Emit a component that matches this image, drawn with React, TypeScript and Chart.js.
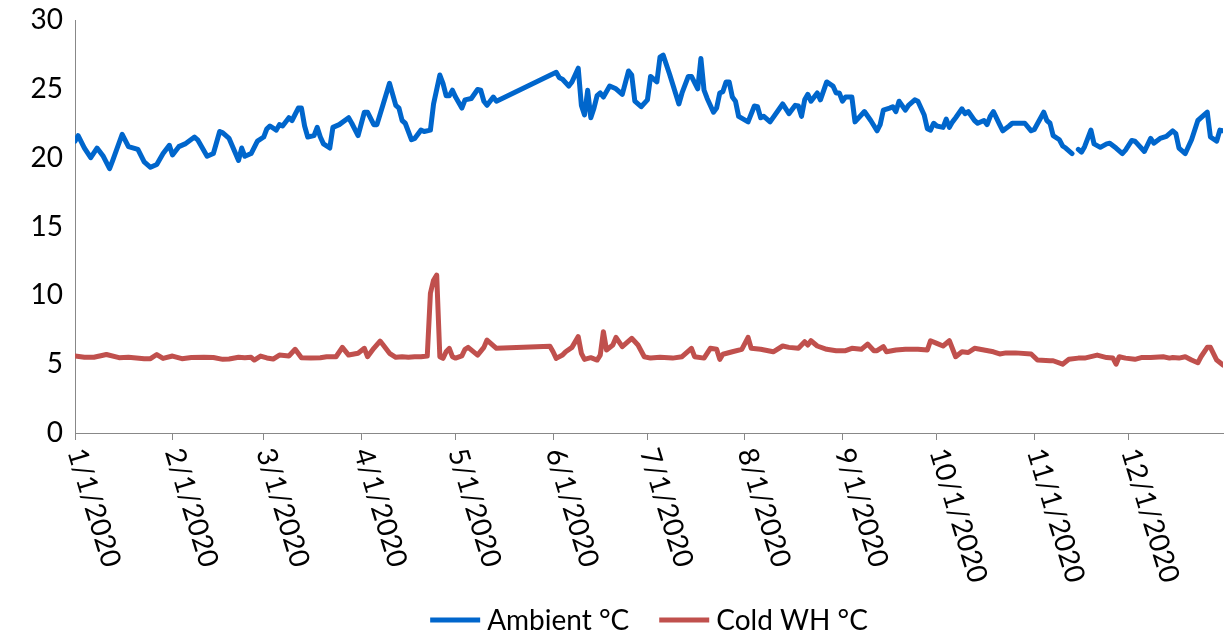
import React, { useEffect, useRef } from "react";
import { Chart, registerables } from "chart.js";

Chart.register(...registerables);

// Day-of-year index (0 = 1/1/2020) for each month start tick
const monthTickDays = [0, 31, 60, 91, 121, 152, 182, 213, 244, 274, 305, 335];
const monthTickLabels = [
  "1/1/2020", "2/1/2020", "3/1/2020", "4/1/2020", "5/1/2020", "6/1/2020",
  "7/1/2020", "8/1/2020", "9/1/2020", "10/1/2020", "11/1/2020", "12/1/2020",
];
const yTickValues = [0, 5, 10, 15, 20, 25, 30];

const seriesNames = ["Ambient °C", "Cold WH °C"];
const seriesColors = ["#0066CC", "#C0504D"];

// Ambient °C readings (day index, value); null marks the missing reading
const ambientDays = [
  0, 1, 3, 5, 7, 9, 11, 12, 15, 17, 20, 22, 24, 26, 28, 30, 31, 33, 35, 38, 39, 42, 44, 46, 47, 49,
  52, 53, 54, 56, 58, 60, 61, 62, 64, 65, 66, 68, 69, 71, 72, 73, 74, 76, 77, 78, 79, 81, 82, 84,
  87, 88, 90, 92, 93, 95, 96, 98, 100, 102, 103, 104, 105, 107, 108, 110, 111, 113, 114, 116, 117,
  118, 119, 120, 121, 123, 124, 126, 128, 129, 130, 131, 133, 134, 153, 154, 155, 157, 158, 160,
  161, 162, 163, 164, 165, 166, 167, 168, 170, 172, 174, 176, 177, 178, 180, 182, 183, 185, 186,
  187, 189, 192, 193, 195, 196, 198, 199, 200, 201, 203, 204, 205, 206, 207, 208, 209, 210, 211,
  214, 216, 217, 218, 219, 221, 225, 227, 229, 230, 231, 232, 233, 234, 236, 237, 239, 241, 242,
  243, 244, 245, 247, 248, 251, 253, 255, 256, 257, 259, 260, 261, 262, 264, 265, 267, 268, 270,
  271, 272, 273, 274, 276, 277, 278, 279, 280, 282, 283, 284, 286, 287, 289, 290, 291, 292, 294,
  295, 297, 298, 300, 302, 304, 305, 308, 309, 310, 311, 313, 314, 315, 317, 318, 319, 320, 321,
  323, 324, 326, 328, 329, 331, 333, 334, 336, 337, 340, 342, 343, 345, 347, 349, 350, 351, 353,
  355, 357, 360, 361, 363, 364, 365,
];
const ambientValues = [
  21.2, 21.6, 20.7, 20.0, 20.7, 20.1, 19.2, 19.8, 21.7, 20.8, 20.6, 19.7, 19.3, 19.5, 20.3, 20.9,
  20.2, 20.8, 21.0, 21.5, 21.3, 20.1, 20.3, 21.9, 21.8, 21.4,
  19.8, 20.7, 20.1, 20.3, 21.2, 21.5, 22.1, 22.3, 22.0, 22.4, 22.3, 22.9, 22.7, 23.6, 23.6, 22.3,
  21.5, 21.6, 22.2, 21.5, 21.0, 20.7, 22.2, 22.4,
  22.9, 22.5, 21.6, 23.3, 23.3, 22.4, 22.4, 23.9, 25.4, 23.8, 23.6, 22.7, 22.5, 21.3, 21.4, 22.0,
  21.9, 22.0, 23.9, 26.0, 25.4,
  24.5, 24.5, 24.9, 24.4, 23.6, 24.2, 24.3, 24.95, 24.9, 24.1, 23.8, 24.4, 24.1, 26.2, 25.8, 25.7,
  25.2, 25.5, 26.5,
  23.8, 23.1, 24.9, 22.9, 23.6, 24.5, 24.7, 24.4, 25.2, 25.0, 24.6, 26.3, 26.0, 24.1, 23.7, 24.2,
  25.9, 25.5, 27.3,
  27.45, 26.1, 23.9, 24.7, 25.9, 25.9, 25.0, 27.2, 24.9, 24.3, 23.3, 23.6, 24.7, 24.8, 25.5, 25.5,
  24.4, 24.1, 23.0,
  22.6, 23.75, 23.7, 22.9, 23.0, 22.6, 23.9, 23.2, 23.8, 23.75, 23.0, 24.2, 24.6, 24.1, 24.7, 24.2,
  25.5, 25.2, 24.7,
  24.7, 24.1, 24.4, 24.4, 22.6, 23.35, 22.7, 21.95, 22.4, 23.45, 23.6, 23.7, 23.35, 24.1, 23.45,
  23.8, 24.2, 24.1, 23.1,
  22.1, 22.0, 22.5, 22.3, 22.2, 22.8, 22.2, 22.6, 22.9, 23.55, 23.2, 23.35, 22.7, 22.5, 22.7, 22.4,
  23.0, 23.35, 22.4,
  21.95, 22.3, 22.5, 22.5, 22.5, 21.95, 22.05, 23.3, 22.7, 22.5, 21.6, 21.3, 20.85, 20.7, 20.3, null,
  20.6, 20.4, 20.8,
  22.0, 21.0, 20.75, 21.0, 21.05, 20.7, 20.3, 20.55, 21.25, 21.2, 20.45, 21.4, 21.05, 21.4, 21.55,
  21.95, 21.75, 20.7, 20.3,
  21.3, 22.7, 23.3, 21.5, 21.2, 22.0, 21.95,
];

// Cold WH °C readings (day index, value)
const coldDays = [
  0, 3, 6, 10, 14, 17, 22, 24, 26, 28, 31, 34, 37, 41, 44, 47, 49, 52, 54, 56, 57, 59, 61, 63, 65,
  68, 70, 72, 75, 78, 80, 83, 85, 87, 90, 92, 93, 95, 97, 98, 100, 102, 104, 106, 108, 110, 112,
  113, 114, 115, 116, 117, 118, 119, 120, 121, 123, 124, 125, 128, 130, 131, 134, 151, 152, 153,
  155, 156, 158, 160, 161, 162, 164, 166, 167, 168, 169, 171, 172, 174, 177, 179, 181, 183, 186,
  190, 193, 196, 197, 200, 202, 204, 205, 206, 209, 212, 214, 215, 218, 222, 225, 227, 230, 232,
  233, 234, 236, 239, 242, 245, 247, 250, 252, 254, 255, 257, 258, 261, 264, 268, 271, 272, 274,
  276, 278, 280, 282, 284, 286, 289, 292, 294, 296, 299, 304, 306, 310, 311, 314, 316, 319, 321,
  325, 328, 330, 331, 332, 334, 337, 339, 342, 346, 348, 349, 351, 353, 355, 357, 358, 360, 361,
  363, 365,
];
const coldValues = [
  5.59, 5.5, 5.5, 5.7, 5.47, 5.5, 5.4, 5.4, 5.7, 5.42, 5.59, 5.4, 5.48, 5.5, 5.48, 5.35, 5.37, 5.5,
  5.47, 5.5, 5.3, 5.59, 5.45, 5.37, 5.66,
  5.59, 6.08, 5.47, 5.44, 5.47, 5.54, 5.54, 6.22, 5.66, 5.79, 6.15, 5.54, 6.15, 6.68, 6.39, 5.79,
  5.5, 5.54, 5.5, 5.54, 5.54, 5.59,
  10.15, 11.1, 11.47, 5.54, 5.42, 5.9, 6.15, 5.54, 5.44, 5.6, 6.08, 6.22, 5.66, 6.22, 6.75, 6.15,
  6.3, 5.9, 5.42,
  5.66, 5.9, 6.22, 7.0, 5.79, 5.35, 5.47, 5.3, 5.66, 7.36, 6.03, 6.39, 6.95, 6.27, 6.88, 6.39, 5.54,
  5.44, 5.5,
  5.44, 5.54, 6.15, 5.54, 5.44, 6.15, 6.08, 5.35, 5.72, 5.9, 6.08, 6.95, 6.15, 6.08, 5.9, 6.32, 6.22,
  6.15, 6.63,
  6.39, 6.7, 6.32, 6.08, 5.98, 5.98, 6.15, 6.08, 6.46, 5.98, 5.98, 6.27, 5.9, 6.03, 6.08, 6.08, 6.03,
  6.7, 6.51,
  6.32, 6.7, 5.54, 5.9, 5.85, 6.15, 6.03, 5.9, 5.74, 5.82, 5.82, 5.74, 5.3, 5.25, 5.25, 5.0, 5.35,
  5.44, 5.44,
  5.66, 5.48, 5.44, 5.0, 5.54, 5.44, 5.35, 5.48, 5.48, 5.54, 5.44, 5.48, 5.44, 5.54, 5.3, 5.1, 5.54,
  6.22, 6.22,
  5.3, 4.94,
];

const FONT_FAMILY = "Lato, 'Open Sans', sans-serif";
const FONT_SIZE = 28;

function toPoints(days: number[], values: (number | null)[]) {
  return days.map((d, i) => ({ x: d, y: values[i] }));
}

const customLabelsPlugin = {
  id: "customLabels",
  afterDraw(chart: any) {
    const ctx: CanvasRenderingContext2D = chart.ctx;
    const xs = chart.scales.x;
    const area = chart.chartArea;
    ctx.save();
    ctx.font = `${FONT_SIZE}px ${FONT_FAMILY}`;
    ctx.fillStyle = "#000";
    // Rotated month labels (reading downward)
    monthTickDays.forEach((d, i) => {
      const px = xs.getPixelForValue(d);
      ctx.save();
      ctx.translate(px + 1, area.bottom + 16);
      ctx.rotate((73 * Math.PI) / 180);
      ctx.textAlign = "left";
      ctx.textBaseline = "middle";
      ctx.fillText(monthTickLabels[i], 0, 0);
      ctx.restore();
    });
    // Legend
    const lineLen = 50;
    const gap = 7;
    const spacing = 30;
    const widths = seriesNames.map((n) => ctx.measureText(n).width);
    const total =
      widths.reduce((a, w) => a + lineLen + gap + w, 0) + spacing * (seriesNames.length - 1);
    const cx = (area.left + area.right) / 2;
    let x = cx - total / 2;
    const y = 620;
    ctx.textAlign = "left";
    ctx.textBaseline = "middle";
    seriesNames.forEach((n, i) => {
      ctx.strokeStyle = seriesColors[i];
      ctx.lineWidth = 5;
      ctx.beginPath();
      ctx.moveTo(x, y);
      ctx.lineTo(x + lineLen, y);
      ctx.stroke();
      ctx.fillStyle = "#000";
      ctx.fillText(n, x + lineLen + gap, y + 1);
      x += lineLen + gap + widths[i] + spacing;
    });
    ctx.restore();
  },
};

export default function App() {
  const canvasRef = useRef<HTMLCanvasElement | null>(null);

  useEffect(() => {
    if (!canvasRef.current) return;
    const chart = new Chart(canvasRef.current, {
      type: "line",
      data: {
        datasets: [
          {
            label: seriesNames[0],
            data: toPoints(ambientDays, ambientValues),
            borderColor: seriesColors[0],
            backgroundColor: seriesColors[0],
            borderWidth: 5,
            pointRadius: 0,
            tension: 0,
            spanGaps: false,
            borderJoinStyle: "round",
            borderCapStyle: "round",
          },
          {
            label: seriesNames[1],
            data: toPoints(coldDays, coldValues),
            borderColor: seriesColors[1],
            backgroundColor: seriesColors[1],
            borderWidth: 5,
            pointRadius: 0,
            tension: 0,
            borderJoinStyle: "round",
            borderCapStyle: "round",
          },
        ],
      },
      options: {
        animation: false,
        responsive: false,
        layout: { padding: { top: 20, right: 1, left: 0, bottom: 0 } },
        plugins: {
          legend: { display: false },
          tooltip: { enabled: false },
        },
        scales: {
          x: {
            type: "linear",
            min: 0,
            max: 365,
            afterBuildTicks: (scale: any) => {
              scale.ticks = monthTickDays.map((v) => ({ value: v }));
            },
            afterFit: (scale: any) => {
              scale.height = 639 - 433;
              scale.paddingLeft = 0;
              scale.paddingRight = 0;
            },
            ticks: { display: false },
            grid: {
              display: true,
              drawOnChartArea: false,
              drawTicks: true,
              tickLength: 7,
              color: "#888888",
            },
            border: { display: true, color: "#888888", width: 1 },
          },
          y: {
            min: 0,
            max: 30,
            afterBuildTicks: (scale: any) => {
              scale.ticks = yTickValues.map((v) => ({ value: v }));
            },
            afterFit: (scale: any) => {
              scale.width = 75;
              scale.paddingTop = 0;
              scale.paddingBottom = 0;
            },
            ticks: {
              color: "#000",
              padding: 12,
              font: { family: FONT_FAMILY, size: FONT_SIZE },
            },
            grid: { display: false, drawTicks: false },
            border: { display: true, color: "#888888", width: 1 },
          },
        },
      },
      plugins: [customLabelsPlugin],
    });
    return () => chart.destroy();
  }, []);

  return (
    <div style={{ position: "fixed", left: 0, top: 0, width: 1224, height: 639, background: "#fff" }}>
      <canvas ref={canvasRef} width={1224} height={639} />
    </div>
  );
}
